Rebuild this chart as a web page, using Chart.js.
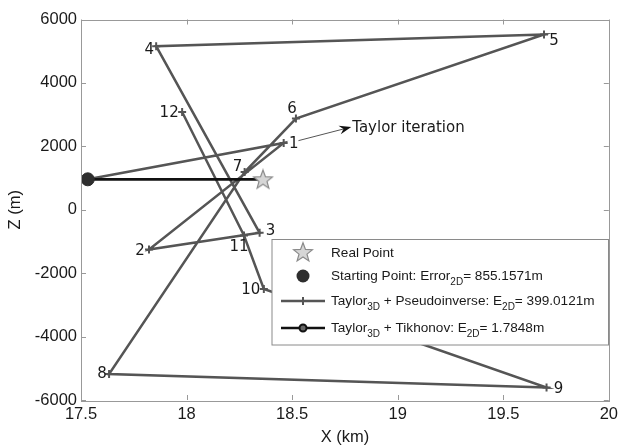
<!DOCTYPE html>
<html><head><meta charset="utf-8">
<script src="https://cdn.jsdelivr.net/npm/chart.js@4.4.1/dist/chart.umd.min.js"></script>
<style>html,body{margin:0;padding:0;background:#fff}#wrap{width:623px;height:447px}</style>
</head><body><div id="wrap"><canvas id="c" width="623" height="447"></canvas></div>
<script>
// ---- data ----
const iterX = [17.532, 18.46, 17.822, 18.346, 17.856, 19.693, 18.518, 18.275, 17.633, 19.705, 18.366, 18.272, 17.979];
const iterZ = [960, 2105, -1255, -727, 5160, 5530, 2876, 1188, -5182, -5606, -2496, -812, 3084];
const iterLabels = ['', '1', '2', '3', '4', '5', '6', '7', '8', '9', '10', '11', '12'];
const realPoint = [18.362, 960];
const startPoint = [17.532, 960];
const tikhonovX = [17.532, 18.362];
const tikhonovZ = [960, 960];
const arrowFrom = [18.53, 2180];
const arrowTo = [18.78, 2610];
const annotationText = 'Taylor iteration';
const xTicks = [17.5, 18, 18.5, 19, 19.5, 20];
const yTicks = [-6000, -4000, -2000, 0, 2000, 4000, 6000];

// ---- styles: label centre offsets from their marker (px) ----
const LABEL_OFF = {1:[10,1],2:[-9,2],3:[11,-2],4:[-7,4],5:[10,7],6:[-4,-9],7:[-7,-5],8:[-7,0],9:[12,2],10:[-13,1],11:[-5,12],12:[-13,1]};

function starPath(ctx, cx, cy, R, r) {
  ctx.beginPath();
  for (let i = 0; i < 10; i++) {
    const rad = i % 2 === 0 ? R : r;
    const a = -Math.PI / 2 + i * Math.PI / 5;
    const px = cx + rad * Math.cos(a), py = cy + rad * Math.sin(a);
    if (i === 0) ctx.moveTo(px, py); else ctx.lineTo(px, py);
  }
  ctx.closePath();
}
function makeStar() {
  const cv = document.createElement('canvas');
  cv.width = 22; cv.height = 22;
  const g = cv.getContext('2d');
  starPath(g, 11, 11.8, 10, 4.2);
  g.fillStyle = '#d6d6d6'; g.fill();
  g.strokeStyle = '#8a8a8a'; g.lineWidth = 1.2; g.stroke();
  return cv;
}
const starImg = makeStar();

const pts = (xs, ys) => xs.map((x, i) => ({x: x, y: ys[i]}));

const overlay = {
  id: 'overlay',
  afterDatasetsDraw(chart) {
    const ctx = chart.ctx, xs = chart.scales.x, ys = chart.scales.y;
    const a = chart.chartArea;
    ctx.save();
    // point labels
    ctx.font = '15px "DejaVu Sans"';
    ctx.fillStyle = '#1a1a1a';
    ctx.textAlign = 'center'; ctx.textBaseline = 'middle';
    iterLabels.forEach((lab, i) => {
      if (!lab) return;
      const o = LABEL_OFF[i] || [10, 0];
      const px = xs.getPixelForValue(iterX[i]), py = ys.getPixelForValue(iterZ[i]);
      ctx.fillText(lab, px + o[0], py + o[1]);
    });
    // arrow annotation
    const x1 = xs.getPixelForValue(arrowFrom[0]), y1 = ys.getPixelForValue(arrowFrom[1]);
    const x2 = xs.getPixelForValue(arrowTo[0]), y2 = ys.getPixelForValue(arrowTo[1]);
    const ang = Math.atan2(y2 - y1, x2 - x1);
    ctx.strokeStyle = '#555'; ctx.lineWidth = 1;
    ctx.beginPath(); ctx.moveTo(x1, y1); ctx.lineTo(x2 - 8 * Math.cos(ang), y2 - 8 * Math.sin(ang)); ctx.stroke();
    ctx.fillStyle = '#111';
    ctx.beginPath();
    ctx.moveTo(x2, y2);
    ctx.lineTo(x2 - 12 * Math.cos(ang) + 4.5 * Math.sin(ang), y2 - 12 * Math.sin(ang) - 4.5 * Math.cos(ang));
    ctx.lineTo(x2 - 8 * Math.cos(ang), y2 - 8 * Math.sin(ang));
    ctx.lineTo(x2 - 12 * Math.cos(ang) - 4.5 * Math.sin(ang), y2 - 12 * Math.sin(ang) + 4.5 * Math.cos(ang));
    ctx.closePath(); ctx.fill();
    ctx.fillStyle = '#1a1a1a';
    ctx.textAlign = 'left';
    ctx.fillText(annotationText, x2 + 1, y2 + 1);

    // frame and inside ticks
    ctx.strokeStyle = '#999'; ctx.lineWidth = 1;
    ctx.strokeRect(Math.round(a.left) + 0.5, Math.round(a.top) + 0.5, Math.round(a.right - a.left), Math.round(a.bottom - a.top));
    ctx.beginPath();
    xTicks.forEach(v => {
      const px = Math.round(xs.getPixelForValue(v)) + 0.5;
      ctx.moveTo(px, a.bottom); ctx.lineTo(px, a.bottom - 5);
      ctx.moveTo(px, a.top); ctx.lineTo(px, a.top + 5);
    });
    yTicks.forEach(v => {
      const py = Math.round(ys.getPixelForValue(v)) + 0.5;
      ctx.moveTo(a.left, py); ctx.lineTo(a.left + 5, py);
      ctx.moveTo(a.right, py); ctx.lineTo(a.right - 5, py);
    });
    ctx.stroke();

    // legend
    const L = 272, T = 239.5, R = 608.5, B = 345;
    ctx.fillStyle = '#fff'; ctx.fillRect(L, T, R - L, B - T);
    ctx.strokeStyle = '#8a8a8a'; ctx.strokeRect(L, T, R - L, B - T);
    const mx = 303, tx = 331;
    const rows = [253, 276, 301, 328];
    ctx.drawImage(starImg, mx - 11, rows[0] - 12);
    ctx.fillStyle = '#2e2e2e';
    ctx.beginPath(); ctx.arc(mx, rows[1], 6.5, 0, Math.PI * 2); ctx.fill();
    ctx.strokeStyle = '#555'; ctx.lineWidth = 2.5;
    ctx.beginPath(); ctx.moveTo(281, rows[2]); ctx.lineTo(325, rows[2]); ctx.stroke();
    ctx.lineWidth = 2;
    ctx.beginPath(); ctx.moveTo(303, rows[2] - 4); ctx.lineTo(303, rows[2] + 4); ctx.stroke();
    ctx.strokeStyle = '#111'; ctx.lineWidth = 2.5;
    ctx.beginPath(); ctx.moveTo(281, rows[3]); ctx.lineTo(325, rows[3]); ctx.stroke();
    ctx.fillStyle = '#666'; ctx.lineWidth = 2;
    ctx.beginPath(); ctx.arc(303, rows[3], 3.5, 0, Math.PI * 2); ctx.fill(); ctx.stroke();

    const rich = (x, y, parts) => {
      ctx.fillStyle = '#1a1a1a'; ctx.textAlign = 'left'; ctx.textBaseline = 'middle';
      parts.forEach(p => {
        if (p[1]) { ctx.font = '10px "Liberation Sans"'; ctx.fillText(p[0], x, y + 6); }
        else { ctx.font = '13.6px "Liberation Sans"'; ctx.fillText(p[0], x, y); }
        x += ctx.measureText(p[0]).width;
      });
    };
    rich(tx, rows[0], [['Real Point']]);
    rich(tx, rows[1], [['Starting Point: Error'], ['2D', 1], ['= 855.1571m']]);
    rich(tx, rows[2], [['Taylor'], ['3D', 1], [' + Pseudoinverse: E'], ['2D', 1], ['= 399.0121m']]);
    rich(tx, rows[3], [['Taylor'], ['3D', 1], [' + Tikhonov: E'], ['2D', 1], ['= 1.7848m']]);
    ctx.restore();
  }
};

new Chart(document.getElementById('c'), {
  type: 'scatter',
  data: {
    datasets: [
      { label: 'Real Point', data: [{x: realPoint[0], y: realPoint[1]}], pointStyle: starImg, order: 0 },
      { label: 'Starting Point', data: [{x: startPoint[0], y: startPoint[1]}], pointRadius: 6.5, pointBackgroundColor: '#2e2e2e', pointBorderColor: '#2e2e2e', order: 1 },
      { label: 'Tikhonov', data: pts(tikhonovX, tikhonovZ), showLine: true, borderColor: '#111', borderWidth: 2.8, pointRadius: 0, order: 2 },
      { label: 'Pseudoinverse', data: pts(iterX, iterZ), showLine: true, borderColor: '#555', borderWidth: 2.5,
        pointStyle: 'cross', pointRadius: 4, pointBorderWidth: 2, pointBorderColor: '#555', order: 3 }
    ]
  },
  options: {
    responsive: false, animation: false, devicePixelRatio: 1,
    layout: { padding: { left: 0, right: 11, top: 19.5, bottom: 0 } },
    plugins: { legend: { display: false }, tooltip: { enabled: false } },
    scales: {
      x: {
        type: 'linear', min: 17.5, max: 20,
        afterBuildTicks: s => { s.ticks = xTicks.map(v => ({value: v})); },
        afterFit: s => { s.height = 47; },
        grid: { display: false, drawTicks: false }, border: { display: false },
        ticks: { padding: 5, color: '#1a1a1a', font: { family: 'Liberation Sans', size: 16.5 }, maxRotation: 0,
          callback: v => String(v) },
        title: { display: true, text: 'X (km)', color: '#1a1a1a', font: { family: 'Liberation Sans', size: 16.5 }, padding: { top: 0, bottom: 0 } }
      },
      y: {
        type: 'linear', min: -6000, max: 6000,
        afterBuildTicks: s => { s.ticks = yTicks.map(v => ({value: v})); },
        afterFit: s => { s.width = 81; },
        grid: { display: false, drawTicks: false }, border: { display: false },
        ticks: { padding: 4, color: '#1a1a1a', font: { family: 'Liberation Sans', size: 16.5 }, callback: v => String(v) },
        title: { display: true, text: 'Z (m)', color: '#1a1a1a', font: { family: 'Liberation Sans', size: 16.5 }, padding: { top: 6, bottom: 0 } }
      }
    }
  },
  plugins: [overlay]
});
</script></body></html>
